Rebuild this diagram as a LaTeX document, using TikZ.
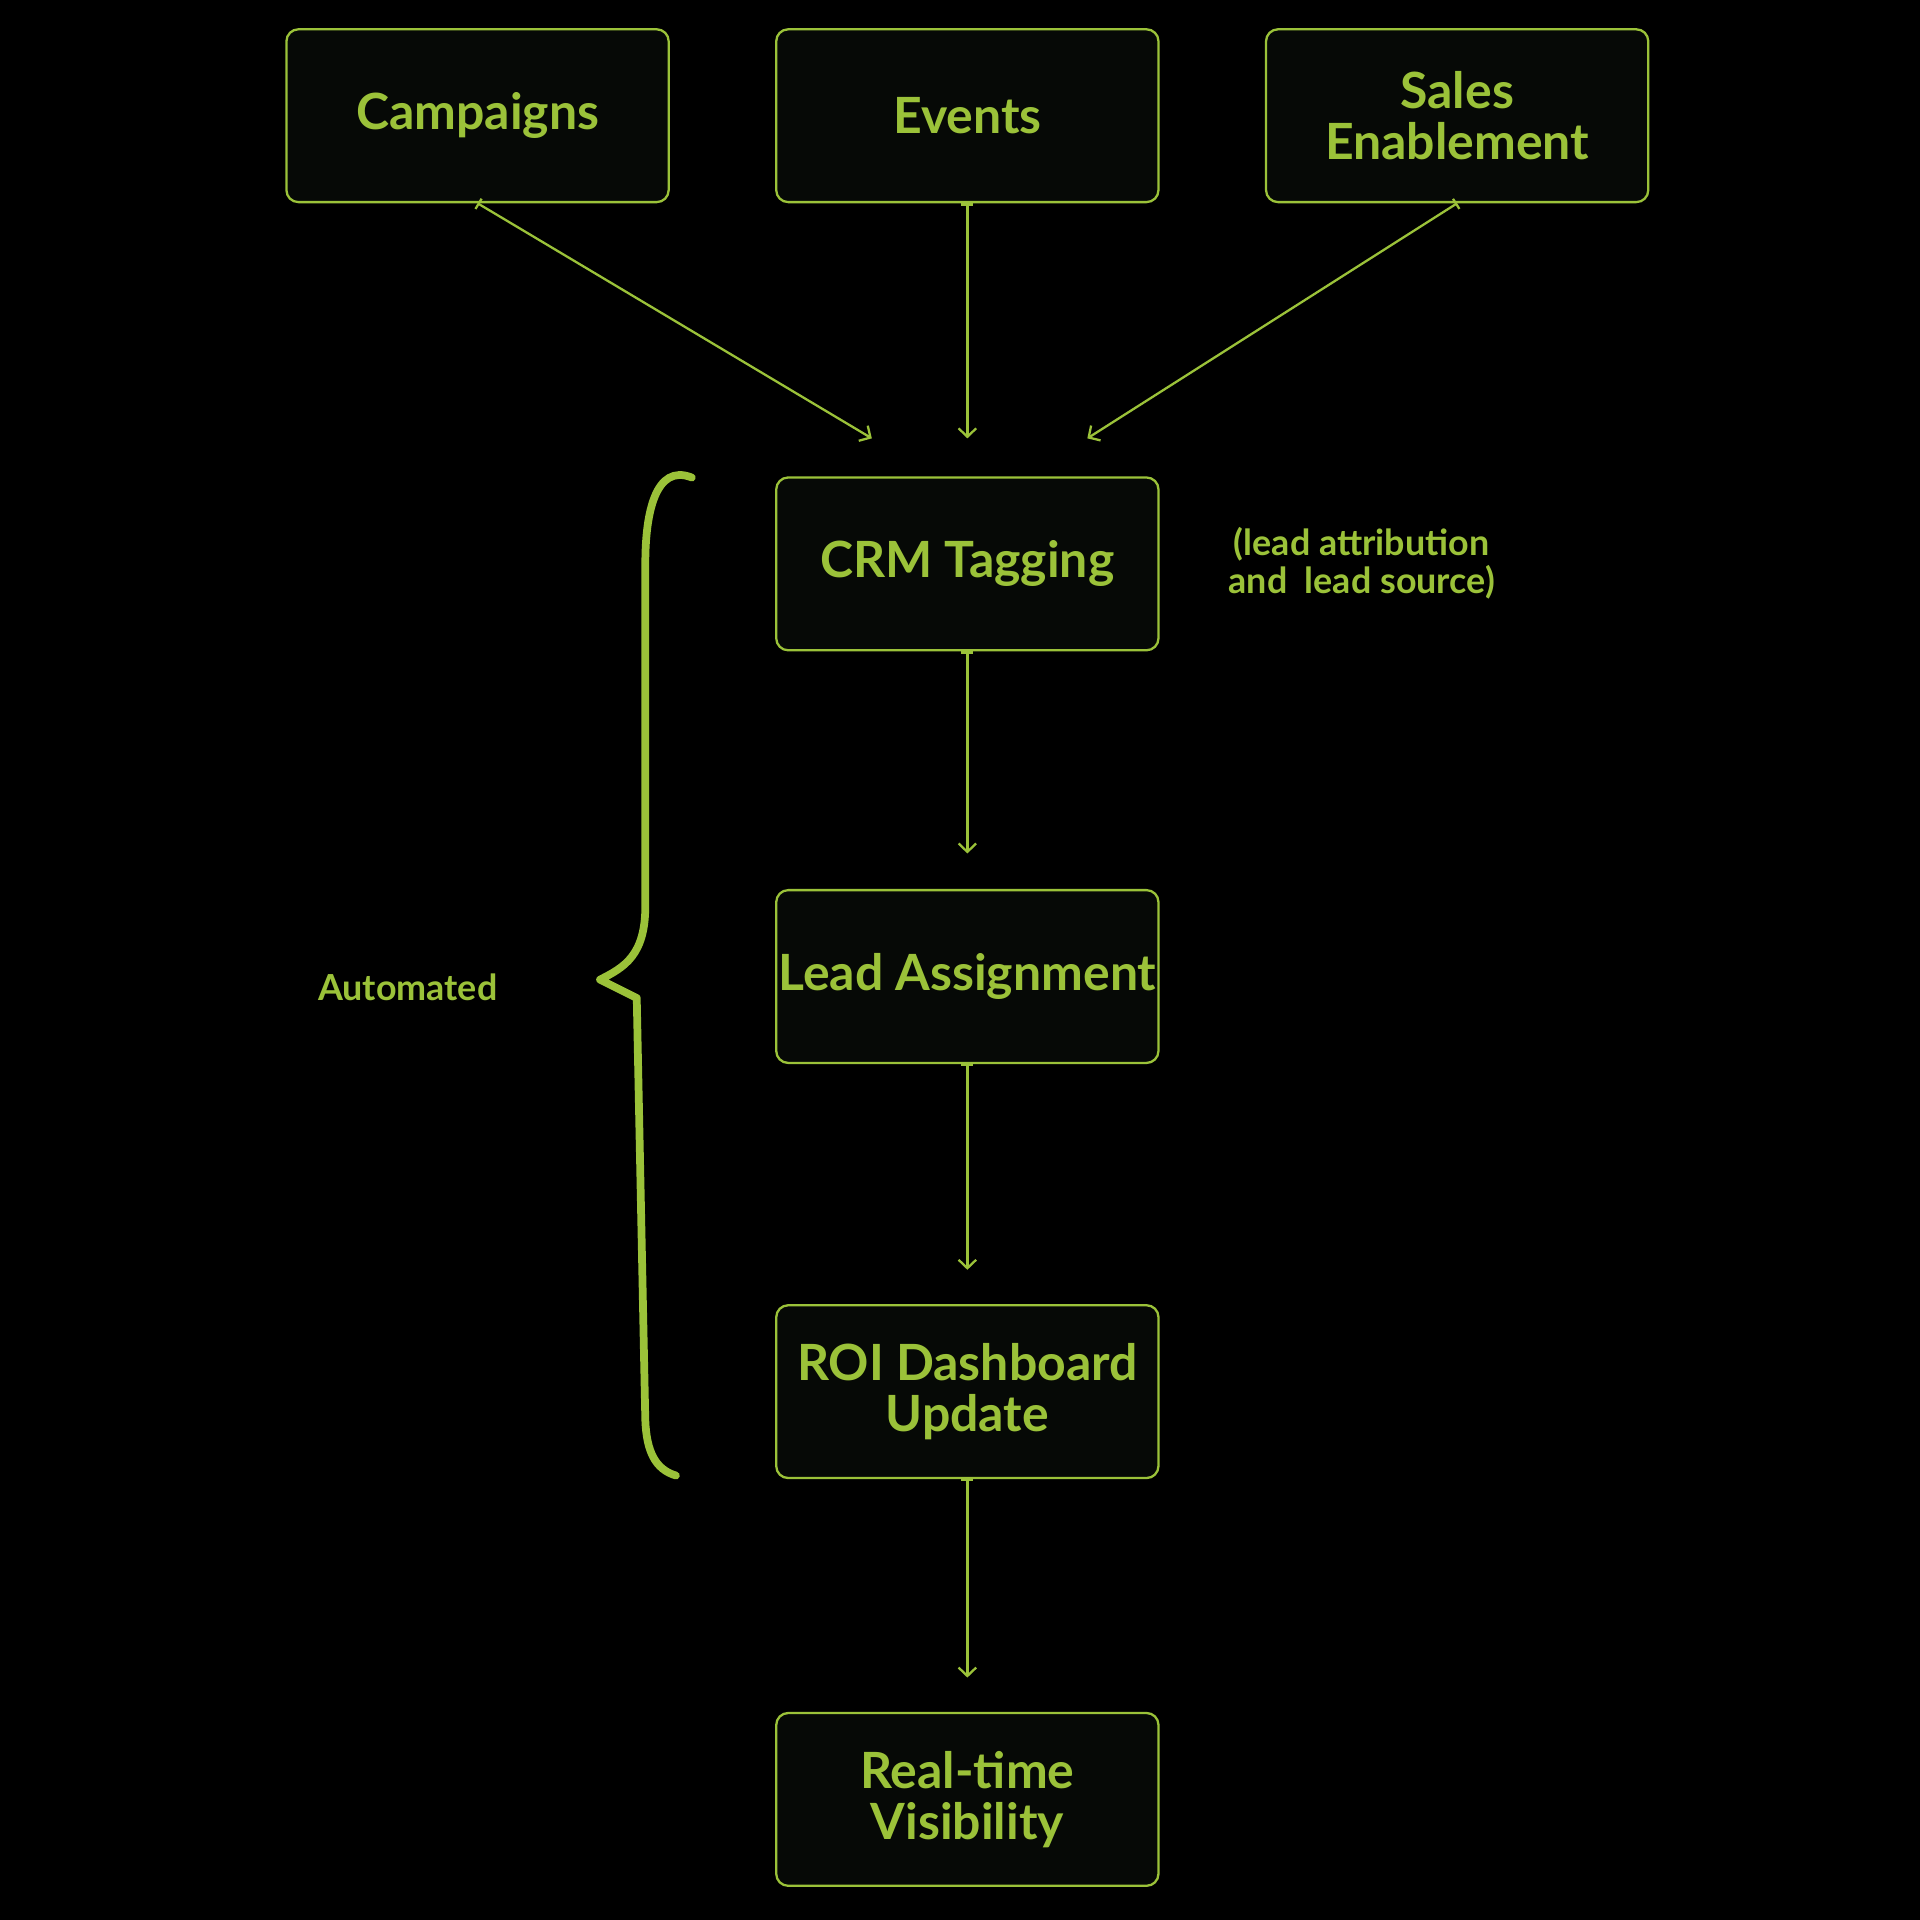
\documentclass[tikz,border=0pt]{standalone}
\usepackage{fontspec}
\setmainfont{Lato}
\usetikzlibrary{arrows.meta}

\definecolor{lime}{RGB}{155,194,57}
\definecolor{boxfill}{RGB}{6,9,6}

\begin{document}
\begin{tikzpicture}[x=0.012245cm,y=-0.012245cm]
  \tikzstyle{every node}=[text=lime]
  \tikzstyle{stage}=[draw=lime,fill=boxfill,line width=0.65pt,rounded corners=3.4pt,
    minimum width=3.82cm,minimum height=1.727cm,inner sep=0pt,align=center,
    font=\fontsize{14.2}{14.6}\selectfont\bfseries]
  \tikzstyle{note}=[align=center,font=\fontsize{10.2}{8.3}\selectfont\bfseries]
  \tikzstyle{flow}=[draw=lime,line width=0.65pt,{Bar[width=3.4pt,line width=0.65pt]}-{Straight Barb[length=2.4pt,width=5pt]}]

  % background
  \fill[black] (0,0) rectangle (1568,1568);

  % sources
  \node[stage] (campaigns) at (390,94.5)  {Campaigns};
  \node[stage] (events)    at (790,94.5)  {Events};
  \node[stage] (sales)     at (1190,94.5) {Sales\\Enablement};

  % automated chain
  \node[stage] (crm)    at (790,460.5)  {CRM Tagging};
  \node[stage] (lead)   at (790,797.5)  {Lead Assignment};
  \node[stage] (roi)    at (790,1136.5) {ROI Dashboard\\Update};
  \node[stage] (vis)    at (790,1469.5) {Real-time\\Visibility};

  \node[note] (attr) at (1112,460) {(lead attribution\\and\ \ lead source)};
  \node[note] (auto) at (333,806)  {Automated};

  \coordinate (inL) at (712,358);
  \coordinate (inC) at (790,358);
  \coordinate (inR) at (888,358);
  \coordinate (toLead) at (790,697);
  \coordinate (toRoi)  at (790,1037);
  \coordinate (toVis)  at (790,1370);

  \draw[flow] (campaigns.south) -- (inL);
  \draw[flow] (events.south)    -- (inC);
  \draw[flow] (sales.south)     -- (inR);
  \draw[flow] (crm.south)  -- (toLead);
  \draw[flow] (lead.south) -- (toRoi);
  \draw[flow] (roi.south)  -- (toVis);

  % brace
  \draw[lime,line width=2.2pt,line cap=round,line join=round]
    (565,390) .. controls (535,378) and (527,420) .. (527,460)
    -- (527,740) .. controls (527,780) and (510,790) .. (490,800)
    -- (520,815) -- (527,1160) .. controls (528,1185) and (535,1200) .. (552,1205);
\end{tikzpicture}
\end{document}
